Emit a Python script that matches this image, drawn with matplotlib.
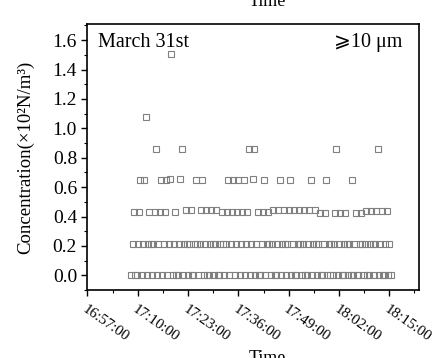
import matplotlib
matplotlib.use("Agg")
import matplotlib.dates as mdates
import matplotlib.pyplot as plt
import pandas as pd

plt.rcParams["font.family"] = ["Liberation Serif", "DejaVu Serif", "DejaVu Sans"]

# particle counter record, >=10 um channel, one sample every 20 s
START_TIME = "2013-03-31 17:08:20"
SAMPLE_STEP = "20s"
CONCENTRATION = [
    0.0, 0.215, 0.43, 0.0, 0.0, 0.215, 0.43, 0.645, 0.0, 0.215, 0.645, 1.075,
    0.0, 0.215, 0.43, 0.215, 0.0, 0.215, 0.43, 0.86, 0.0, 0.215, 0.43, 0.645,
    0.0, 0.215, 0.43, 0.645, 0.0, 0.215, 0.655, 1.505, 0.0, 0.215, 0.43, 0.0,
    0.0, 0.215, 0.655, 0.86, 0.0, 0.215, 0.445, 0.215, 0.0, 0.215, 0.445, 0.0,
    0.0, 0.215, 0.645, 0.215, 0.0, 0.215, 0.445, 0.645, 0.0, 0.215, 0.445, 0.0,
    0.0, 0.215, 0.445, 0.215, 0.0, 0.215, 0.445, 0.0, 0.0, 0.215, 0.43, 0.215,
    0.0, 0.215, 0.43, 0.645, 0.0, 0.215, 0.43, 0.645, 0.0, 0.215, 0.43, 0.645,
    0.0, 0.215, 0.43, 0.645, 0.0, 0.215, 0.43, 0.86, 0.0, 0.215, 0.655, 0.86,
    0.0, 0.215, 0.43, 0.0, 0.0, 0.215, 0.43, 0.645, 0.0, 0.215, 0.43, 0.215,
    0.0, 0.215, 0.445, 0.0, 0.0, 0.215, 0.445, 0.645, 0.0, 0.215, 0.445, 0.215,
    0.0, 0.215, 0.445, 0.645, 0.0, 0.215, 0.445, 0.0, 0.0, 0.215, 0.445, 0.215,
    0.0, 0.215, 0.445, 0.0, 0.0, 0.215, 0.445, 0.645, 0.0, 0.215, 0.445, 0.215,
    0.0, 0.215, 0.425, 0.0, 0.0, 0.215, 0.425, 0.645, 0.0, 0.215, 0.0, 0.215,
    0.0, 0.215, 0.425, 0.86, 0.0, 0.215, 0.425, 0.0, 0.0, 0.215, 0.425, 0.215,
    0.0, 0.215, 0.0, 0.645, 0.0, 0.215, 0.425, 0.0, 0.0, 0.215, 0.425, 0.215,
    0.0, 0.215, 0.435, 0.0, 0.0, 0.215, 0.435, 0.215, 0.0, 0.215, 0.435, 0.86,
    0.0, 0.215, 0.435, 0.0, 0.0, 0.215, 0.435, 0.0, 0.215, 0.0,
]

TICK_TIMES = ["16:57:00", "17:10:00", "17:23:00", "17:36:00",
              "17:49:00", "18:02:00", "18:15:00"]
DAY = "2013-03-31"
X_END = "18:22:40"


def main() -> None:
    times = pd.date_range(START_TIME, periods=len(CONCENTRATION), freq=SAMPLE_STEP)
    ticks = pd.to_datetime([f"{DAY} {t}" for t in TICK_TIMES])
    tick_nums = mdates.date2num(ticks)
    minor_nums = (tick_nums[:-1] + tick_nums[1:]) / 2
    minor_nums = list(minor_nums) + [tick_nums[-1] + (tick_nums[1] - tick_nums[0]) / 2]

    fig = plt.figure(figsize=(4.34, 3.58), dpi=100)
    ax = fig.add_axes([0.2016, 0.190, 0.7638, 0.743])

    ax.plot(times, CONCENTRATION, linestyle="none", marker="s", markersize=4.4,
            markerfacecolor="none", markeredgecolor="0.5", markeredgewidth=0.8)

    ax.set_xlim(tick_nums[0], mdates.date2num(pd.Timestamp(f"{DAY} {X_END}")))
    ax.set_ylim(-0.1, 1.71)

    ax.set_xticks(tick_nums)
    ax.set_xticks(minor_nums, minor=True)
    ax.set_xticklabels(TICK_TIMES, rotation=-35, ha="left", va="top",
                       rotation_mode="anchor", fontsize=10.8)
    ax.set_yticks([0.0, 0.2, 0.4, 0.6, 0.8, 1.0, 1.2, 1.4, 1.6])
    ax.set_yticks([-0.1, 0.1, 0.3, 0.5, 0.7, 0.9, 1.1, 1.3, 1.5, 1.7], minor=True)
    ax.yaxis.set_major_formatter(plt.FormatStrFormatter("%.1f"))
    ax.tick_params(axis="y", labelsize=14)
    ax.tick_params(axis="x", pad=5)
    ax.tick_params(which="major", direction="out", length=4, width=1.0)
    ax.tick_params(which="minor", direction="out", length=2, width=0.8)
    ax.tick_params(top=False, right=False)
    for spine in ax.spines.values():
        spine.set_linewidth(1.2)

    ax.set_ylabel("Concentration(×10²N/m³)", fontsize=13.5, labelpad=13)

    ax.text(0.032, 0.93, "March 31st", transform=ax.transAxes,
            fontsize=14.5, ha="left", va="center")
    ax.text(0.95, 0.93, "⩾10 μm", transform=ax.transAxes,
            fontsize=14.5, ha="right", va="center")

    # axis titles of this panel and of the panel above it
    fig.text(267 / 434, 0.022, "Time", fontsize=13, ha="center", va="top")
    fig.text(267 / 434, 0.982, "Time", fontsize=13, ha="center", va="baseline")

    fig.savefig("out.png", dpi=100)
    plt.close(fig)


if __name__ == "__main__":
    main()
